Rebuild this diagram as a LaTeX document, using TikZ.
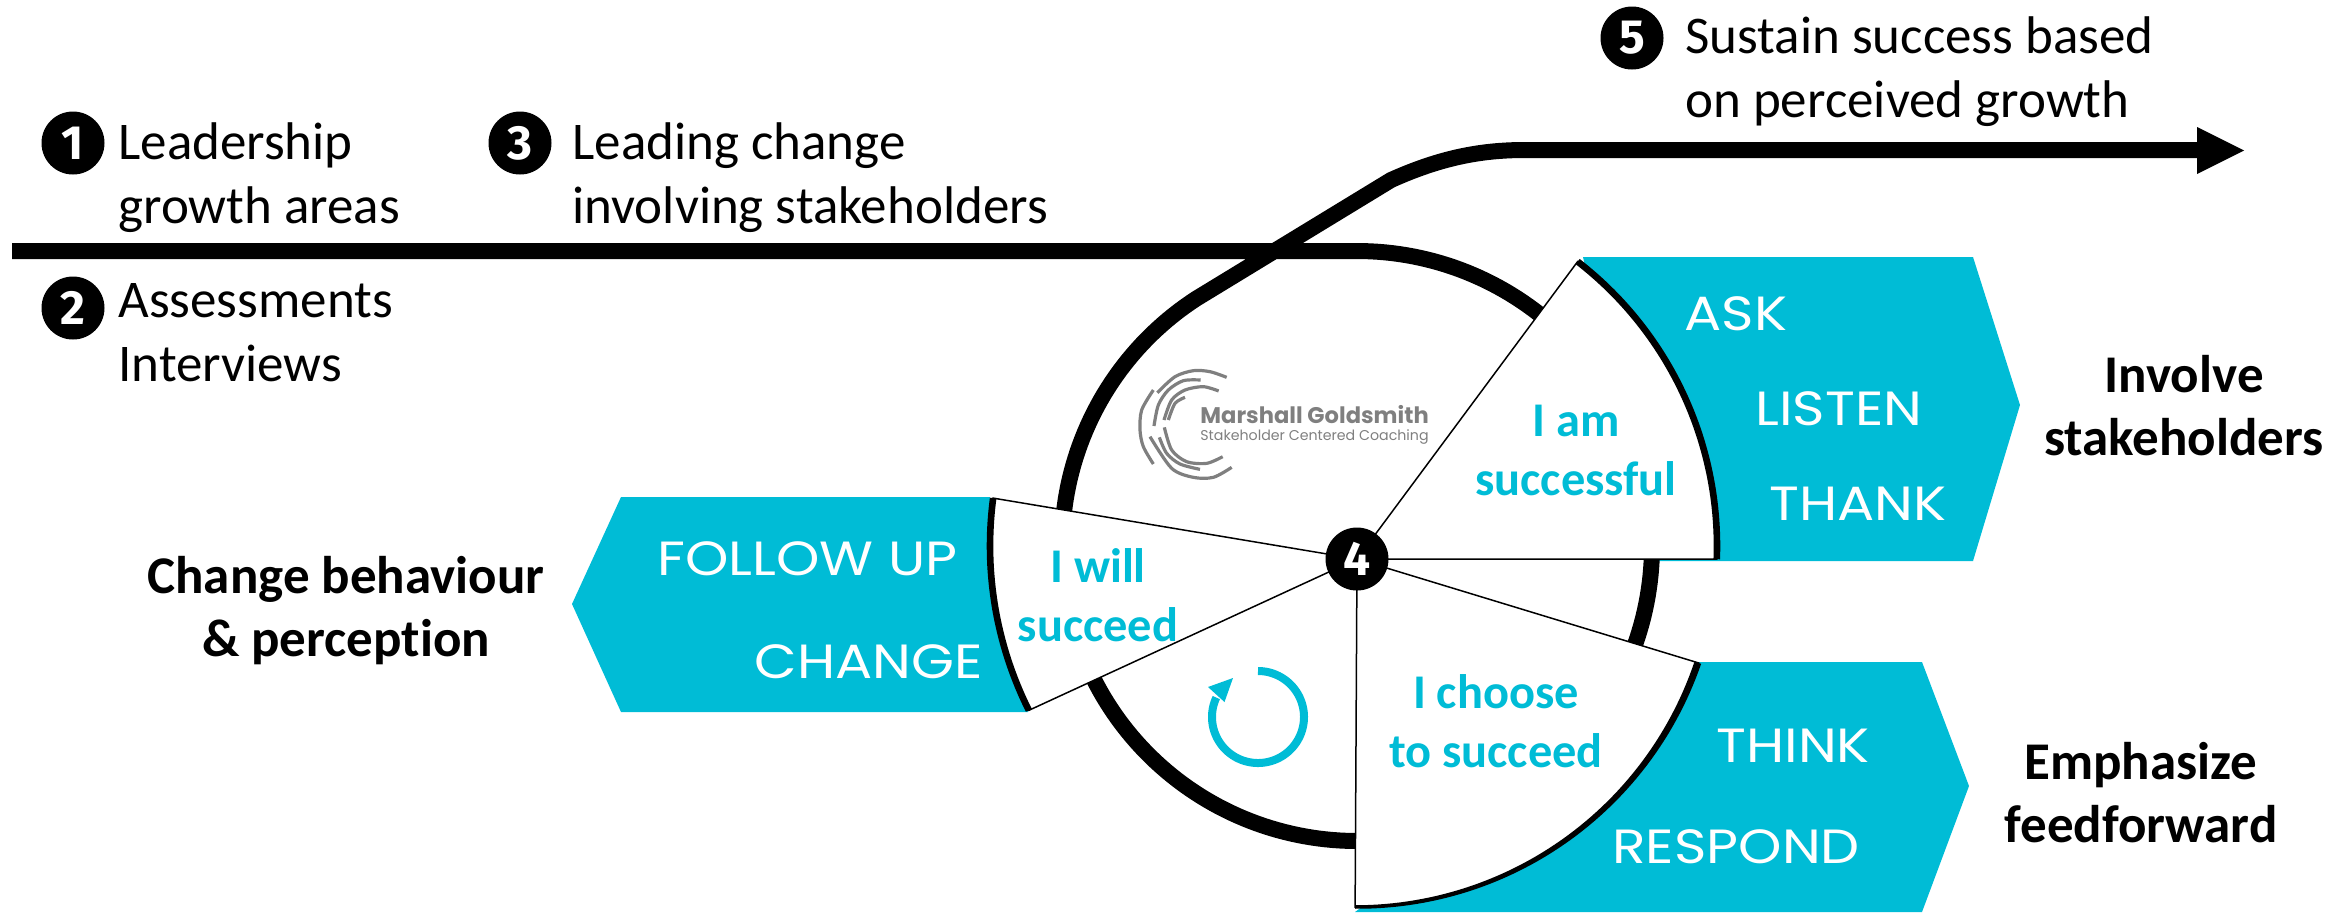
\documentclass[tikz,border=0pt]{standalone}
\usepackage{fontspec}
\setmainfont[Ligatures=NoCommon]{Carlito}
\newfontfamily\capsfont[FakeStretch=1.15]{Poppins}
\newfontfamily\logofont{Poppins}
\newfontfamily\digitfont{Fira Sans}
\definecolor{teal0}{HTML}{00BCD6}
\definecolor{logogrey}{HTML}{7F7F7F}
\tikzset{
  tealbox/.style={fill=teal0,draw=none},
  slicefill/.style={fill=white,draw=black,line width=0.75pt,line join=miter},
  slicearc/.style={draw=black,line width=3.3pt,line cap=butt},
  numdot/.style={circle,fill=black,text=white,minimum size=31.5pt,inner sep=0pt,font=\digitfont\bfseries\fontsize{24}{24}\selectfont},
  bodytext/.style={anchor=base west,align=left,inner sep=0pt,font=\fontsize{26.5}{32}\selectfont},
  boldtext/.style={anchor=base,align=center,inner sep=0pt,font=\bfseries\fontsize{26.5}{31.5}\selectfont},
  slicetext/.style={anchor=base,align=center,inner sep=0pt,text=teal0,font=\bfseries\fontsize{24.2}{29.5}\selectfont},
  captext/.style={anchor=base west,inner sep=0pt,text=white,font=\capsfont\fontsize{24}{24}\selectfont},
  logoline/.style={draw=logogrey,line width=1.6pt},
}
\begin{document}
\begin{tikzpicture}[x=0.5pt,y=-0.5pt]
\useasboundingbox (0,0) rectangle (2341,912);
% teal arrows
\fill[tealbox] (1583,257) -- (1973,257) -- (2020,405) -- (1973,561) -- (1650,561) -- cycle;
\fill[tealbox] (1699,662) -- (1922,662) -- (1969,786) -- (1922,912) -- (1355,912) -- cycle;
\fill[tealbox] (990,497) -- (621,497) -- (572,604) -- (621,712) -- (1028,712) -- cycle;
% main path
\coordinate (start) at (12,251);
\coordinate (bend) at (1391,180);
\coordinate (flat) at (1525,150);
\coordinate (headbase) at (2197,150);
\draw[line width=8pt,line join=round] (start) -- (1357,251)
  -- plot[domain=90:-237,samples=240] ({1357+295*cos(\x)},{546-295*sin(\x)})
  -- (bend) .. controls (1440,158) and (1480,150) .. (flat) -- (headbase);
\fill[black] (2197,127) -- (2244,150.5) -- (2197,174) -- cycle;
% slices
\coordinate (hub) at (1357,559);
\draw[slicefill] (hub) -- plot[domain=52.2:-2.1,samples=60] ({1357+360*cos(\x)},{546-360*sin(\x)}) -- cycle;
\draw[slicearc] plot[domain=52.2:-2.1,samples=60] ({1357+360*cos(\x)},{546-360*sin(\x)});
\draw[slicefill] (hub) -- plot[domain=-18.9:-90.3,samples=60] ({1357+361*cos(\x)},{546-361*sin(\x)}) -- cycle;
\fill[black] plot[domain=-18.9:-90.3,samples=60] ({1357+(361+1.75+1.0*(\x+90.3)/71.4)*cos(\x)},{546-(361+1.75+1.0*(\x+90.3)/71.4)*sin(\x)})
  -- plot[domain=-90.3:-18.9,samples=60] ({1357+(361-1.75-2.5*(\x+90.3)/71.4)*cos(\x)},{546-(361-1.75-2.5*(\x+90.3)/71.4)*sin(\x)}) -- cycle;
\draw[slicefill] (hub) -- plot[domain=172.5:206.6,samples=40] ({1357+367*cos(\x)},{546-367*sin(\x)}) -- cycle;
\draw[slicearc] plot[domain=172.5:206.6,samples=40] ({1357+367*cos(\x)},{546-367*sin(\x)});
% hub and numbers
\node[numdot] (n4) at (hub) {4};
\node[numdot] (n1) at (73,143) {1};
\node[numdot] (n2) at (73,308) {2};
\node[numdot] (n3) at (520,143) {3};
\node[numdot] (n5) at (1632,38) {5};
% texts (base anchor = last line)
\node[bodytext] (t1) at (118,223) {Leadership\\growth areas};
\node[bodytext] (t2) at (118,381) {Assessments\\Interviews};
\node[bodytext] (t3) at (572,223) {Leading change\\involving stakeholders};
\node[bodytext] (t5) at (1685,117) {Sustain success based\\on perceived growth};
\node[boldtext] (b1) at (2184,455) {Involve\\stakeholders};
\node[boldtext] (b2) at (2141,842) {Emphasize\\feedforward};
\node[boldtext] (b3) at (346,656) {Change behaviour\\\& perception};
\node[slicetext] (s1) at (1576,495) {I am\\successful};
\node[slicetext] (s2) at (1098,641) {I will\\succeed};
\node[slicetext] (s3) at (1496,767) {I choose\\to succeed};
\node[captext] (c1) at (1684,330) {ASK};
\node[captext] (c2) at (1755,425) {LISTEN};
\node[captext] (c3) at (1769,520) {THANK};
\node[captext] (c4) at (1716,762) {THINK};
\node[captext] (c5) at (1612,863) {RESPOND};
\node[captext] (c6) at (657,575) {FOLLOW UP};
\node[captext] (c7) at (754,678) {CHANGE};
% circular arrow
\draw[teal0,line width=4pt] plot[domain=90:-205,samples=120] ({1258+46*cos(\x)},{717-46*sin(\x)});
\fill[teal0] (1208,687) -- (1233,678) -- (1224.5,702) -- cycle;
% logo
\begin{scope}[shift={(1100,340)},x=0.16667pt,y=-0.16667pt]
\draw[logoline] plot[smooth] coordinates {(380,112) (330,95) (280,92) (225,110) (172,158)};
\draw[logoline] plot[smooth] coordinates {(160,150) (125,210) (120,270) (130,320) (160,372)};
\draw[logoline] plot[smooth] coordinates {(302,120) (250,122) (205,150) (175,195) (162,258)};
\draw[logoline] plot[smooth] coordinates {(356,153) (310,140) (255,150) (215,180) (192,240)};
\draw[logoline] plot[smooth] coordinates {(255,172) (225,190) (205,240)};
\draw[logoline] plot[smooth] coordinates {(395,382) (340,412) (280,412) (215,385) (150,290)};
\draw[logoline] plot[smooth] coordinates {(300,388) (240,372) (200,340) (178,292)};
\draw[logoline] plot[smooth] coordinates {(368,350) (320,370) (260,365) (215,330) (193,262)};
\end{scope}
\node[anchor=base west,inner sep=0pt,text=logogrey,font=\logofont\bfseries\fontsize{11.3}{11.3}\selectfont] (l1) at (1200,423) {Marshall Goldsmith};
\node[anchor=base west,inner sep=0pt,text=logogrey,font=\logofont\fontsize{7.1}{7.1}\selectfont] (l2) at (1200,440) {Stakeholder Centered Coaching};
\end{tikzpicture}
\end{document}
